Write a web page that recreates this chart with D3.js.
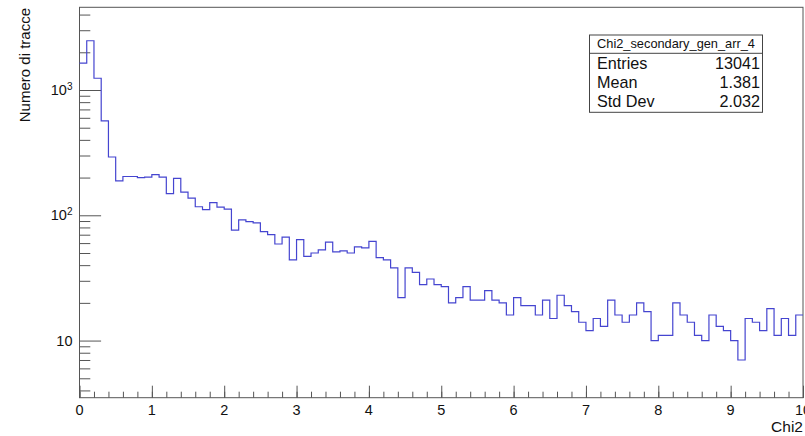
<!DOCTYPE html>
<html>
<head>
<meta charset="utf-8">
<script src="https://cdn.jsdelivr.net/npm/d3@7"></script>
<style>
  html, body { margin: 0; padding: 0; background: #fff; }
  svg { display: block; font-family: "Liberation Sans", Arial, Helvetica, sans-serif; }
</style>
</head>
<body>
<svg id="chart" width="805" height="436"></svg>
<script>
// Histogram of Chi2 for secondary tracks: 100 bins of width 0.1 on [0, 10]
const binLow = 0;
const binWidth = 0.1;
const counts = [
  1638, 2472, 1241, 568, 292, 188, 204, 204, 200, 202,
  211, 202, 149, 197, 153, 137, 117, 111, 126, 116,
  112, 76, 92, 89, 87, 74, 70, 59, 67, 44,
  64, 47, 50, 53, 61, 51, 52, 50, 56, 55,
  62, 46, 44, 38, 22, 38, 35, 28, 31, 28,
  27, 20, 22, 27, 21, 21, 25, 21, 20, 16,
  22, 19, 19, 16, 21, 15, 23, 19, 17, 14,
  12, 15, 13, 21, 16, 14, 16, 20, 17, 10,
  11, 11, 20, 16, 14, 11, 10, 16, 13, 12,
  10, 7, 15, 14, 12, 18, 11, 15, 11, 16
];

// Axis ticks
const xMajor = [0, 1, 2, 3, 4, 5, 6, 7, 8, 9, 10];
const xMinor = d3.range(0, 10.001, 0.2);
const yMajor = [10, 100, 1000];
const yMajorLabels = [["10", ""], ["10", "2"], ["10", "3"]];
const yMinor = [4, 5, 6, 7, 8, 9, 20, 30, 40, 50, 60, 70, 80, 90,
                200, 300, 400, 500, 600, 700, 800, 900, 2000, 3000, 4000];

// Statistics box
const statsTitle = "Chi2_secondary_gen_arr_4";
const statsNames = ["Entries", "Mean", "Std Dev"];
const statsValues = ["13041", "1.381", "2.032"];

const xTitle = "Chi2";
const yTitle = "Numero di tracce";

const svg = d3.select("#chart");
const frame = { left: 79.5, right: 803, top: 7.3, bottom: 397.7 };

const x = d3.scaleLinear().domain([0, 10]).range([frame.left, frame.right]);
const y = d3.scaleLog().domain([3.5, 4572]).range([frame.bottom, frame.top]);

const axisColor = "#555";
const textColor = "#111";

// Frame box
svg.append("rect")
  .attr("x", frame.left).attr("y", frame.top)
  .attr("width", frame.right - frame.left).attr("height", frame.bottom - frame.top)
  .attr("fill", "none").attr("stroke", axisColor).attr("stroke-width", 1);

// X axis ticks (drawn inward)
const gx = svg.append("g").attr("transform", `translate(0,${frame.bottom})`);
gx.append("g").call(d3.axisTop(x).tickValues(xMinor).tickSize(6).tickFormat(""))
  .call(g => g.select(".domain").remove());
gx.append("g").call(d3.axisTop(x).tickValues(xMajor).tickSize(12).tickFormat(""))
  .call(g => g.select(".domain").remove());
gx.selectAll("line").attr("stroke", axisColor);

// X tick labels
svg.append("g").selectAll("text").data(xMajor).join("text")
  .attr("x", d => x(d)).attr("y", 415)
  .attr("text-anchor", "middle")
  .attr("font-size", 14.5).attr("fill", textColor)
  .text(d => d);

// Y axis ticks (drawn inward)
const gy = svg.append("g").attr("transform", `translate(${frame.left},0)`);
gy.append("g").call(d3.axisRight(y).tickValues(yMinor).tickSize(10.8).tickFormat(""))
  .call(g => g.select(".domain").remove());
gy.append("g").call(d3.axisRight(y).tickValues(yMajor).tickSize(21.6).tickFormat(""))
  .call(g => g.select(".domain").remove());
gy.selectAll("line").attr("stroke", axisColor);

// Y tick labels with exponent
const yl = svg.append("g").selectAll("text").data(yMajor).join("text")
  .attr("x", 72.5).attr("y", d => y(d) + 5)
  .attr("text-anchor", "end")
  .attr("font-size", 14.5).attr("fill", textColor);
yl.each(function(d, i) {
  const t = d3.select(this);
  const [base, exp] = yMajorLabels[i];
  t.append("tspan").text(base);
  if (exp) t.append("tspan").attr("dy", -5).attr("font-size", 10).text(exp);
});

// Axis titles
svg.append("text")
  .attr("x", frame.right).attr("y", 431.5)
  .attr("text-anchor", "end")
  .attr("font-size", 15.5).attr("fill", textColor)
  .text(xTitle);

svg.append("text")
  .attr("transform", `translate(30,${frame.top + 0.7}) rotate(-90)`)
  .attr("text-anchor", "end")
  .attr("font-size", 15).attr("fill", textColor)
  .text(yTitle);

// Histogram outline as a step line
const pts = counts.map((c, i) => [binLow + i * binWidth, c]);
pts.push([binLow + counts.length * binWidth, counts[counts.length - 1]]);
const line = d3.line()
  .x(d => x(d[0]))
  .y(d => y(d[1]))
  .curve(d3.curveStepAfter);

svg.append("path")
  .datum(pts)
  .attr("d", line)
  .attr("fill", "none")
  .attr("stroke", "#4545d0")
  .attr("stroke-width", 1.2);

// Statistics box
const box = { left: 589.5, right: 762.5, top: 35, bottom: 112.3, sep: 53.3 };
const gs = svg.append("g");
gs.append("rect")
  .attr("x", box.left).attr("y", box.top)
  .attr("width", box.right - box.left).attr("height", box.bottom - box.top)
  .attr("fill", "#fff").attr("stroke", "#444").attr("stroke-width", 1);
gs.append("line")
  .attr("x1", box.left).attr("x2", box.right)
  .attr("y1", box.sep).attr("y2", box.sep)
  .attr("stroke", "#444");
gs.append("text")
  .attr("x", (box.left + box.right) / 2).attr("y", 47.5)
  .attr("text-anchor", "middle")
  .attr("font-size", 12.8).attr("fill", textColor)
  .text(statsTitle);
const rowY = [69.3, 88.3, 106.9];
gs.selectAll("text.name").data(statsNames).join("text")
  .attr("class", "name")
  .attr("x", 597).attr("y", (d, i) => rowY[i])
  .attr("font-size", 16.2).attr("fill", textColor)
  .text(d => d);
gs.selectAll("text.val").data(statsValues).join("text")
  .attr("class", "val")
  .attr("x", 760).attr("y", (d, i) => rowY[i])
  .attr("text-anchor", "end")
  .attr("font-size", 16.2).attr("fill", textColor)
  .text(d => d);
</script>
</body>
</html>
